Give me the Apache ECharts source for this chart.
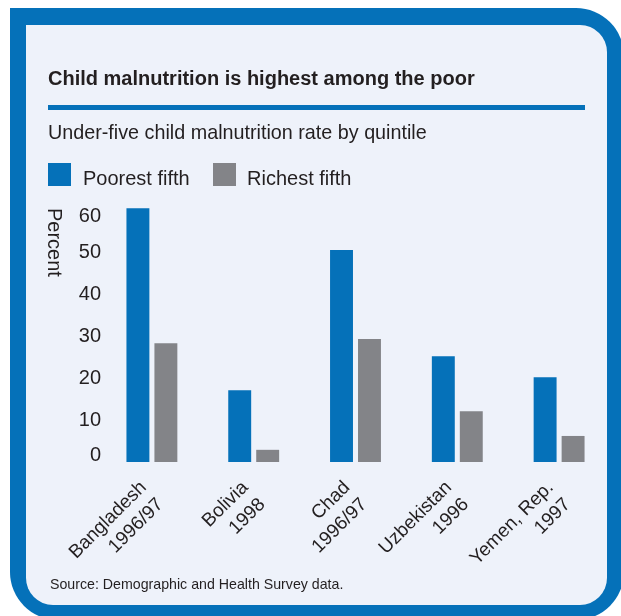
<!DOCTYPE html>
<html>
<head>
<meta charset="utf-8">
<script src="https://cdn.jsdelivr.net/npm/echarts@6/dist/echarts.min.js"></script>
<style>
html,body{margin:0;padding:0;background:#ffffff;}
#chart{width:621px;height:616px;}
</style>
</head>
<body>
<div id="chart"></div>
<script>
var categories = ["Bangladesh\n1996/97", "Bolivia\n1998", "Chad\n1996/97", "Uzbekistan\n1996", "Yemen, Rep.\n1997"];
var poorest = [60.4, 17.1, 50.5, 25.2, 20.2];
var richest = [28.3, 2.9, 29.3, 12.1, 6.2];
var yTicks = [0, 10, 20, 30, 40, 50, 60];

var FONT = "'Liberation Sans', Arial, sans-serif";
var BLUE = '#0571b9';
var GRAY = '#838488';
var BG = '#eef2fa';
var TXT = '#231f20';

var chart = echarts.init(document.getElementById('chart'), null, {renderer: 'canvas'});
chart.setOption({
  backgroundColor: '#ffffff',
  animation: false,
  graphic: [
    {type: 'rect', z: -10, shape: {x: 10, y: 8, width: 614, height: 612, r: [0, 48, 48, 48]}, style: {fill: BLUE}},
    {type: 'rect', z: -9, shape: {x: 26, y: 25, width: 581, height: 580, r: [0, 27, 27, 27]}, style: {fill: BG}},
    {type: 'text', left: 48, top: 69, style: {text: 'Child malnutrition is highest among the poor', font: 'bold 20px ' + FONT, fill: TXT}},
    {type: 'rect', shape: {x: 48, y: 105, width: 537, height: 5}, style: {fill: BLUE}},
    {type: 'text', left: 48, top: 124, style: {text: 'Under-five child malnutrition rate by quintile', font: '19.75px ' + FONT, fill: TXT}},
    {type: 'rect', shape: {x: 48, y: 163, width: 23, height: 23}, style: {fill: BLUE}},
    {type: 'text', left: 83, top: 169, style: {text: 'Poorest fifth', font: '20px ' + FONT, fill: TXT}},
    {type: 'rect', shape: {x: 213, y: 163, width: 23, height: 23}, style: {fill: GRAY}},
    {type: 'text', left: 247, top: 169, style: {text: 'Richest fifth', font: '20px ' + FONT, fill: TXT}},
    {type: 'text', x: 54, y: 208, rotation: -Math.PI / 2, style: {text: 'Percent', font: '20px ' + FONT, fill: TXT, align: 'left', verticalAlign: 'middle'}},
    {type: 'text', left: 50, top: 578, style: {text: 'Source: Demographic and Health Survey data.', font: '14.2px ' + FONT, fill: TXT}}
  ],
  grid: {left: 101, right: 11, top: 201.6, bottom: 154, containLabel: false},
  xAxis: {
    type: 'category',
    data: categories,
    axisLine: {show: false},
    axisTick: {show: false},
    axisLabel: {rotate: 45, margin: 31, padding: [48, 0, 0, 0], interval: 0, fontFamily: FONT, fontSize: 19, lineHeight: 24, color: TXT}
  },
  yAxis: {
    type: 'value',
    min: 0, max: 62, interval: 10,
    axisLine: {show: false},
    axisTick: {show: false},
    splitLine: {show: false},
    axisLabel: {
      margin: 0, fontFamily: FONT, fontSize: 20, color: TXT,
      formatter: function (v) {
        if (yTicks.indexOf(v) < 0) return '';
        if (v === 0) return '{lo|' + v + '}';
        if (v === 60) return '{hi|' + v + '}';
        return String(v);
      },
      rich: {
        lo: {fontFamily: FONT, fontSize: 20, color: TXT, padding: [0, 0, 14, 0]},
        hi: {fontFamily: FONT, fontSize: 20, color: TXT, padding: [12, 0, 0, 0]}
      }
    }
  },
  series: [
    {name: 'Poorest fifth', type: 'bar', data: poorest, itemStyle: {color: BLUE}, barGap: '22%', barCategoryGap: '50%'},
    {name: 'Richest fifth', type: 'bar', data: richest, itemStyle: {color: GRAY}}
  ]
});
</script>
</body>
</html>
